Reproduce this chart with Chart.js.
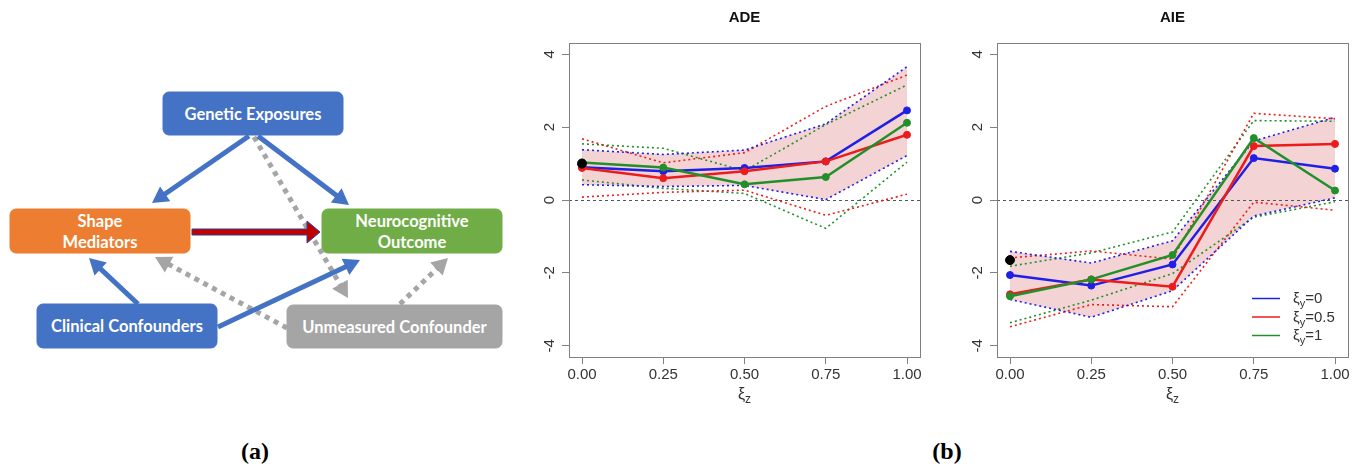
<!DOCTYPE html>
<html>
<head>
<meta charset="utf-8">
<script src="https://cdn.jsdelivr.net/npm/chart.js@4.4.1/dist/chart.umd.min.js"></script>
<style>
  body { margin: 0; background: #fff; width: 1362px; height: 470px; position: relative; overflow: hidden; }
  #diagram { position: absolute; left: 0; top: 0; }
  #ade { position: absolute; left: 520px; top: 0; }
  #aie { position: absolute; left: 935px; top: 0; }
  .panel { position: absolute; top: 438px; width: 40px; text-align: center; line-height: 28px;
           font: bold 24px "Liberation Serif", "Times New Roman", serif; color: #000; }
</style>
</head>
<body>
<svg id="diagram" width="520" height="420" xmlns="http://www.w3.org/2000/svg"></svg>
<canvas id="ade" width="415" height="420"></canvas>
<canvas id="aie" width="427" height="420"></canvas>
<div class="panel" style="left:235px">(a)</div>
<div class="panel" style="left:927px">(b)</div>

<script>
// x positions (xi_z) and axis ticks
const xiZ = [0, 0.25, 0.5, 0.75, 1];
const xTicks = [0, 0.25, 0.5, 0.75, 1];
const yTicks = [-4, -2, 0, 2, 4];
const xiYLabels = ['0', '0.5', '1'];

// ADE estimates and bounds, one array per xi_y
const adeEst0  = [0.90, 0.79, 0.88, 1.06, 2.46];
const adeEst05 = [0.88, 0.60, 0.79, 1.06, 1.79];
const adeEst1  = [1.03, 0.89, 0.43, 0.63, 2.12];
const adeUp0   = [1.38, 1.25, 1.37, 2.09, 3.66];
const adeLo0   = [0.42, 0.37, 0.40, 0.01, 1.22];
const adeUp05  = [1.68, 1.02, 1.30, 2.57, 3.43];
const adeLo05  = [0.08, 0.21, 0.27, -0.42, 0.16];
const adeUp1   = [1.54, 1.42, 0.80, 2.07, 3.16];
const adeLo1   = [0.55, 0.32, 0.18, -0.78, 1.04];
const adeRef   = 1.00;

// AIE estimates and bounds
const aieEst0  = [-2.06, -2.35, -1.77, 1.15, 0.86];
const aieEst05 = [-2.59, -2.18, -2.38, 1.48, 1.54];
const aieEst1  = [-2.64, -2.18, -1.51, 1.70, 0.26];
const aieUp0   = [-1.41, -1.73, -1.12, 1.62, 2.27];
const aieLo0   = [-2.73, -3.22, -2.49, -0.44, 0.06];
const aieUp05  = [-1.59, -1.40, -1.62, 2.38, 2.23];
const aieLo05  = [-3.48, -2.87, -2.93, -0.06, -0.28];
const aieUp1   = [-1.82, -1.45, -0.88, 2.18, 2.16];
const aieLo1   = [-3.37, -2.75, -2.02, -0.47, -0.05];
const aieRef   = -1.65;

const lineColors = ['#1f1fe6', '#ec1c1c', '#21902a'];
const bandColor = 'rgba(220, 130, 130, 0.35)';
const rFont = '"Liberation Sans", Arial, Helvetica, sans-serif';

// ---------- diagram (a) ----------
const NS = 'http://www.w3.org/2000/svg';
const svg = document.getElementById('diagram');
function el(tag, attrs) {
  const e = document.createElementNS(NS, tag);
  for (const k in attrs) e.setAttribute(k, attrs[k]);
  svg.appendChild(e);
  return e;
}
function box(x, y, w, h, fill, lines) {
  el('rect', { x, y, width: w, height: h, rx: 6, fill, stroke: fill, 'stroke-width': 1 });
  const step = 21;
  const y0 = y + h / 2 - (lines.length - 1) * step / 2;
  lines.forEach((t, i) => {
    const tx = el('text', { x: x + w / 2, y: y0 + i * step, fill: '#fff', 'text-anchor': 'middle',
      'dominant-baseline': 'central', 'font-family': 'Lato, "Open Sans", sans-serif',
      'font-weight': 700, 'font-size': 16.5 });
    tx.textContent = t;
  });
}
function arrow(x1, y1, x2, y2, color, dotted) {
  const dx = x2 - x1, dy = y2 - y1, len = Math.hypot(dx, dy);
  const ux = dx / len, uy = dy / len, hl = 16, hw = 9;
  const bx = x2 - ux * hl, by = y2 - uy * hl;
  const ln = el('line', { x1, y1, x2: bx + ux * 2, y2: by + uy * 2, stroke: color, 'stroke-width': 5 });
  if (dotted) ln.setAttribute('stroke-dasharray', '5 5');
  el('polygon', { fill: color, points: `${x2},${y2} ${bx - uy * hw},${by + ux * hw} ${bx + uy * hw},${by - ux * hw}` });
}

box(163, 92, 180, 43, '#4472C4', ['Genetic Exposures']);
box(10, 209, 180, 44, '#ED7D31', ['Shape', 'Mediators']);
box(322, 209, 180, 44, '#70AD47', ['Neurocognitive', 'Outcome']);
box(37, 304, 180, 44, '#4472C4', ['Clinical Confounders']);
box(287, 305, 215, 43, '#A5A5A5', ['Unmeasured Confounder']);

arrow(254, 137, 348, 298, '#A5A5A5', true);
arrow(287, 328, 155, 257, '#A5A5A5', true);
arrow(400, 304, 448, 258, '#A5A5A5', true);
arrow(249, 136, 152, 203, '#4472C4', false);
arrow(258, 136, 349, 205, '#4472C4', false);
arrow(138, 304, 89, 258, '#4472C4', false);
arrow(218, 327, 360, 260, '#4472C4', false);
// red arrow mediators -> outcome
el('polygon', { fill: '#C00000', stroke: '#2F3F8F', 'stroke-width': 1,
  points: '192,229 307,229 307,221 320,232 307,243 307,235 192,235' });

// ---------- charts (b) ----------
function pts(arr) { return xiZ.map((x, i) => ({ x, y: arr[i] })); }

function drawXi(ctx, x, y, sub, rest, size, align) {
  const subSize = Math.round(size * 0.72);
  ctx.font = `${size}px ${rFont}`;
  const w1 = ctx.measureText('ξ').width;
  const w3 = ctx.measureText(rest).width;
  ctx.font = `${subSize}px ${rFont}`;
  const w2 = ctx.measureText(sub).width;
  let sx = align === 'center' ? x - (w1 + w2 + w3) / 2 : x;
  ctx.textAlign = 'left';
  ctx.textBaseline = 'alphabetic';
  ctx.font = `${size}px ${rFont}`;
  ctx.fillText('ξ', sx, y);
  ctx.font = `${subSize}px ${rFont}`;
  ctx.fillText(sub, sx + w1, y + size * 0.28);
  ctx.font = `${size}px ${rFont}`;
  ctx.fillText(rest, sx + w1 + w2, y);
}

function decor(title, showLegend) {
  return {
    id: 'decor',
    beforeDatasetsDraw(chart) {
      const { ctx, chartArea: a, scales: { y } } = chart;
      const y0 = Math.round(y.getPixelForValue(0)) + 0.5;
      ctx.save();
      ctx.strokeStyle = '#555';
      ctx.lineWidth = 1;
      ctx.setLineDash([3, 3]);
      ctx.beginPath();
      ctx.moveTo(a.left, y0);
      ctx.lineTo(a.right, y0);
      ctx.stroke();
      ctx.restore();
    },
    afterDraw(chart) {
      const { ctx, chartArea: a, scales: { x, y } } = chart;
      ctx.save();
      ctx.strokeStyle = '#808080';
      ctx.lineWidth = 1;
      ctx.strokeRect(a.left + 0.5, a.top + 0.5, a.right - a.left, a.bottom - a.top);
      // title
      ctx.fillStyle = '#111';
      ctx.font = `bold 15px ${rFont}`;
      ctx.textAlign = 'center';
      ctx.textBaseline = 'middle';
      ctx.fillText(title, (a.left + a.right) / 2, 18);
      // rotated y tick labels, R style
      ctx.fillStyle = '#333';
      ctx.font = `15px ${rFont}`;
      yTicks.forEach(v => {
        ctx.save();
        ctx.translate(a.left - 19, y.getPixelForValue(v));
        ctx.rotate(-Math.PI / 2);
        ctx.textAlign = 'center';
        ctx.textBaseline = 'middle';
        ctx.fillText(String(v), 0, 0);
        ctx.restore();
      });
      // x axis title
      drawXi(ctx, x.getPixelForValue(0.5), a.bottom + 42, 'z', '', 16, 'center');
      // legend
      if (showLegend) {
        xiYLabels.forEach((lab, k) => {
          const ly = a.bottom - 59 + k * 18.5;
          ctx.strokeStyle = lineColors[k];
          ctx.lineWidth = 1.5;
          ctx.beginPath();
          ctx.moveTo(a.right - 96, ly + 0.5);
          ctx.lineTo(a.right - 68, ly + 0.5);
          ctx.stroke();
          ctx.fillStyle = '#333';
          drawXi(ctx, a.right - 55, ly + 5, 'y', '=' + lab, 15, 'left');
        });
      }
      ctx.restore();
    }
  };
}

function makeChart(id, title, est, up, lo, ref, yWidth, padRight, showLegend) {
  const datasets = [];
  datasets.push({ data: [{ x: xiZ[0], y: ref }], showLine: false, pointRadius: 4.5,
    pointBackgroundColor: '#000', pointBorderColor: '#000', order: 0 });
  est.forEach((arr, k) => {
    datasets.push({ data: pts(arr), borderColor: lineColors[k], backgroundColor: lineColors[k],
      borderWidth: 2.5, pointRadius: 3.5, pointBackgroundColor: lineColors[k],
      pointBorderColor: lineColors[k], pointBorderWidth: 1, order: 3 - k });
  });
  up.forEach((arr, k) => {
    const upIdx = datasets.length;
    datasets.push({ data: pts(arr), borderColor: lineColors[k], borderWidth: 1.6, borderDash: [2, 3],
      pointRadius: 0, order: 10 + k,
      fill: k === 0 ? { target: upIdx + 1 } : false, backgroundColor: bandColor });
    datasets.push({ data: pts(lo[k]), borderColor: lineColors[k], borderWidth: 1.6, borderDash: [2, 3],
      pointRadius: 0, order: 10 + k, fill: false });
  });

  return new Chart(document.getElementById(id), {
    type: 'line',
    data: { datasets },
    options: {
      responsive: false,
      animation: false,
      layout: { padding: { top: 43, right: padRight, left: 0, bottom: 0 } },
      plugins: {
        legend: { display: false },
        tooltip: { enabled: false },
        title: { display: false },
        filler: { drawTime: 'beforeDatasetsDraw' }
      },
      scales: {
        x: {
          type: 'linear', min: -0.04, max: 1.04,
          afterBuildTicks: s => { s.ticks = xTicks.map(v => ({ value: v })); },
          afterFit: s => { s.height = 63; },
          ticks: { callback: v => v.toFixed(2), color: '#333', font: { family: rFont, size: 15 },
                   padding: 2, maxRotation: 0, autoSkip: false },
          grid: { drawOnChartArea: false, tickLength: 7, color: '#808080' },
          border: { color: '#808080' }
        },
        y: {
          type: 'linear', min: -4.31, max: 4.31,
          afterBuildTicks: s => { s.ticks = yTicks.map(v => ({ value: v })); },
          afterFit: s => { s.width = yWidth; },
          ticks: { display: false },
          grid: { drawOnChartArea: false, tickLength: 7, color: '#808080' },
          border: { color: '#808080' }
        }
      }
    },
    plugins: [decor(title, showLegend)]
  });
}

makeChart('ade', 'ADE', [adeEst0, adeEst05, adeEst1], [adeUp0, adeUp05, adeUp1],
  [adeLo0, adeLo05, adeLo1], adeRef, 49, 15, false);
makeChart('aie', 'AIE', [aieEst0, aieEst05, aieEst1], [aieUp0, aieUp05, aieUp1],
  [aieLo0, aieLo05, aieLo1], aieRef, 62, 14, true);
</script>
</body>
</html>
